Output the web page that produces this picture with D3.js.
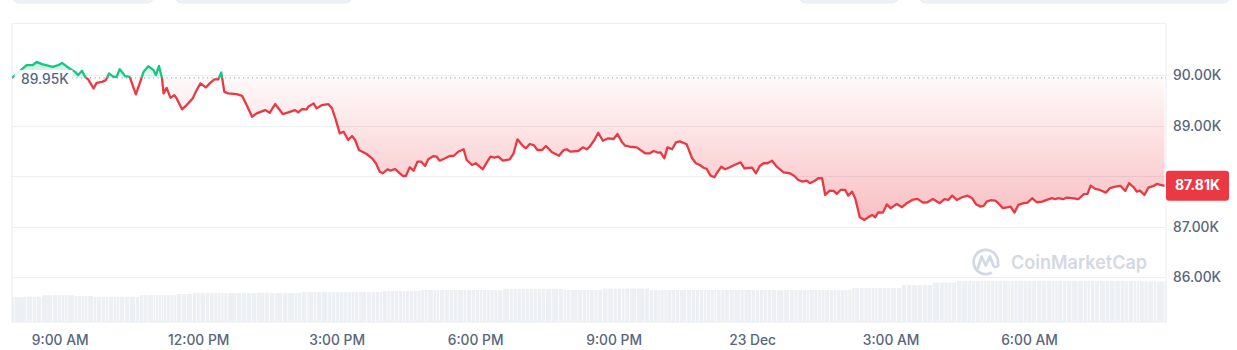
<!DOCTYPE html>
<html>
<head>
<meta charset="utf-8">
<script src="https://cdn.jsdelivr.net/npm/d3@7"></script>
<style>
  html, body { margin: 0; padding: 0; background: #ffffff; }
  svg { display: block; font-family: Inter, "Noto Sans", sans-serif; }
</style>
</head>
<body>
<svg id="chart" width="1237" height="350"></svg>
<script>
// ---------- DATA ----------
const startTime = new Date(2024, 11, 22, 7, 58);      // first sample
const minutes = [
  0,4,19,27,32,39,53,60,65,69,
  73,82,86,91,95,99,106,110,117,122,
  126,132,136,140,147,153,161,166,171,177,
  184,187,191,195,197,201,206,211,214,221,
  227,235,240,245,252,257,263,268,272,276,
  281,292,299,305,312,318,329,335,342,352,
  359,368,372,377,383,385,392,396,403,411,
  416,421,426,431,437,442,446,451,461,468,
  473,478,482,488,492,498,503,508,512,517,
  522,527,532,537,541,548,552,556,563,569,
  574,580,587,591,598,603,608,612,617,622,
  627,632,638,647,652,657,663,668,673,678,
  683,689,694,702,711,717,721,726,736,742,
  747,751,757,762,768,775,782,787,793,797,
  803,812,823,829,834,840,843,848,852,858,
  863,868,877,884,889,894,899,903,908,913,
  916,922,927,933,939,947,952,962,967,972,
  977,982,988,994,1003,1011,1017,1022,1028,1033,
  1037,1043,1048,1053,1057,1063,1068,1072,1077,1083,
  1087,1092,1096,1102,1108,1113,1118,1122,1126,1132,
  1137,1142,1150,1157,1163,1170,1177,1184,1190,1197,
  1206,1212,1217,1222,1228,1235,1242,1248,1253,1259,
  1263,1267,1272,1278,1282,1288,1295,1298,1303,1308,
  1315,1320,1326,1332,1339,1345,1352,1356,1360,1366,
  1371,1378,1386,1393,1398,1402,1408,1414,1422,1427,
  1434,1441,1447,1452,1458,1462,1466,1472,1477,1484,
  1488,1498
];
const prices = [
  89950,90006,90204,90204,90269,90224,90170,90204,90249,90204,
  90158,90071,90006,90091,89972,89921,89743,89853,89873,89907,
  90040,89972,89972,90125,89986,89972,89624,89842,90071,90184,
  90105,90006,90190,89941,89644,89754,89556,89610,89545,89327,
  89412,89545,89709,89842,89762,89842,89921,89921,90059,89675,
  89644,89630,89596,89412,89180,89248,89313,89259,89432,89234,
  89267,89313,89267,89333,89327,89378,89446,89347,89412,89432,
  89347,89115,88852,88883,88719,88798,88719,88521,88442,88357,
  88258,88091,88060,88139,88111,88145,88071,88006,88006,88178,
  88111,88289,88289,88204,88337,88402,88388,88309,88357,88402,
  88402,88487,88535,88323,88224,88258,88190,88139,88270,88388,
  88368,88388,88309,88337,88456,88733,88620,88555,88640,88620,
  88521,88521,88600,88475,88408,88521,88535,88487,88501,88574,
  88535,88590,88719,88863,88705,88753,88739,88838,88673,88606,
  88586,88574,88456,88456,88501,88467,88475,88357,88574,88535,
  88673,88693,88634,88357,88258,88224,88170,88145,88012,87980,
  88060,88190,88139,88178,88224,88277,88159,88170,88060,88204,
  88258,88258,88309,88190,88079,88060,88006,87927,87893,87913,
  87862,87907,87961,87961,87630,87715,87709,87650,87729,87729,
  87616,87695,87565,87188,87135,87188,87234,87188,87283,87279,
  87442,87367,87452,87386,87466,87531,87551,87477,87485,87551,
  87466,87545,87531,87616,87531,87584,87616,87565,87446,87398,
  87412,87497,87525,87517,87466,87367,87386,87398,87279,87432,
  87466,87477,87565,87485,87497,87531,87565,87545,87565,87545,
  87577,87565,87545,87644,87650,87814,87749,87729,87676,87763,
  87794,87808,87709,87862,87782,87695,87715,87630,87774,87808,
  87848,87810
];
// 24h volume (billions USD)
const volumes = [
  38.5,38.6,38.8,38.6,38.9,41.2,41.5,41.6,41.4,41.5,
  41.3,40.1,40.0,40.2,39.9,40.0,38.6,38.5,38.7,38.4,
  38.5,38.3,38.6,38.5,38.4,38.6,38.5,41.2,41.5,41.6,
  41.5,41.4,41.6,41.5,41.5,41.7,41.6,41.5,43.0,43.1,
  43.1,44.6,44.5,44.7,44.6,44.6,44.8,44.6,44.5,44.7,
  44.6,44.7,44.6,44.5,44.6,44.8,44.7,44.6,44.6,44.7,
  44.7,44.6,44.8,46.1,46.2,46.2,46.3,46.1,46.2,46.3,
  46.2,46.1,46.3,46.2,46.2,46.4,46.2,46.3,46.2,46.4,
  46.3,46.4,47.7,47.6,47.8,47.7,47.7,47.9,47.7,47.8,
  47.8,47.7,49.2,49.1,49.3,49.2,49.2,49.4,49.2,49.3,
  49.2,49.3,49.2,49.1,49.3,49.2,49.4,49.2,49.3,49.2,
  49.3,49.2,50.8,50.9,50.7,50.8,50.8,51.0,50.8,50.9,
  50.8,50.9,50.7,50.8,50.8,49.2,49.3,49.1,49.2,49.3,
  49.2,49.3,49.1,49.2,51.5,51.6,51.4,51.5,51.5,51.6,
  51.5,51.4,51.6,49.2,49.3,49.2,49.1,49.3,49.2,49.2,
  49.3,49.2,49.1,49.2,49.3,49.2,49.1,49.2,49.3,49.2,
  49.1,49.2,49.3,49.2,49.1,49.2,49.3,49.2,49.1,49.2,
  49.2,49.3,49.2,49.1,49.2,49.3,49.2,49.2,49.1,49.3,
  49.2,49.3,49.2,49.4,49.3,49.2,49.3,49.5,49.3,49.4,
  49.4,52.2,52.3,52.3,52.4,52.2,52.3,52.4,52.3,52.5,
  52.4,52.3,52.5,56.8,56.9,57.0,56.9,56.8,56.9,60.4,
  60.5,60.6,60.4,60.5,63.0,63.1,63.2,63.1,63.0,63.1,
  63.1,63.2,63.0,63.1,63.1,63.2,63.1,63.0,63.1,63.2,
  63.1,63.0,63.1,63.2,63.1,63.1,63.0,63.1,63.2,63.1,
  63.0,63.1,63.0,62.9,63.0,63.1,63.0,62.9,62.8,62.9,
  62.8,62.9,62.7,62.8,62.6,62.7,62.6,62.5,62.4,62.3,
  62.3,62.2
];
const openPrice = 89950;
const openLabel = "89.95K";
const lastLabel = "87.81K";
const yTickValues = [86000, 87000, 88000, 89000, 90000];
const yTickLabels = ["86.00K", "87.00K", "", "89.00K", "90.00K"];
const xTickDates = [
  new Date(2024, 11, 22, 9), new Date(2024, 11, 22, 12), new Date(2024, 11, 22, 15),
  new Date(2024, 11, 22, 18), new Date(2024, 11, 22, 21), new Date(2024, 11, 23, 0),
  new Date(2024, 11, 23, 3), new Date(2024, 11, 23, 6)
];
const xTickLabels = ["9:00 AM", "12:00 PM", "3:00 PM", "6:00 PM", "9:00 PM", "23 Dec", "3:00 AM", "6:00 AM"];

// ---------- LAYOUT ----------
const plot = { left: 12, right: 1166, top: 23.5, bottom: 322 };
const RED = "#ea3943", GREEN = "#16c784", AXIS = "#58667e";

const data = minutes.map((m, i) => ({
  t: new Date(startTime.getTime() + m * 60000), p: prices[i], v: volumes[i]
}));

const svg = d3.select("#chart");

const x = d3.scaleTime()
  .domain([startTime, new Date(2024, 11, 23, 8, 58)])
  .range([plot.left, plot.right]);
const y = d3.scaleLinear().domain([85110, 91020]).range([plot.bottom, plot.top + 0.5]);
const yVol = d3.scaleLinear().domain([0, 80]).range([plot.bottom, 270]);
const yBase = y(openPrice);

// top partially-visible UI pills
const pills = [[12, 142], [175, 177], [799, 100], [919, 311]];
svg.append("g").selectAll("rect").data(pills).join("rect")
  .attr("x", d => d[0]).attr("y", -12).attr("width", d => d[1]).attr("height", 15)
  .attr("rx", 7).attr("fill", "#eef1f6").attr("stroke", "#e3e7ee").attr("stroke-width", 0.8);

// defs
const defs = svg.append("defs");
defs.append("clipPath").attr("id", "clipBelow").append("rect")
  .attr("x", plot.left).attr("y", yBase).attr("width", plot.right - plot.left).attr("height", plot.bottom - yBase);
defs.append("clipPath").attr("id", "clipAbove").append("rect")
  .attr("x", plot.left).attr("y", plot.top).attr("width", plot.right - plot.left).attr("height", yBase - plot.top);

const gRed = defs.append("linearGradient").attr("id", "gradRed")
  .attr("gradientUnits", "userSpaceOnUse").attr("x1", 0).attr("x2", 0)
  .attr("y1", yBase).attr("y2", y(d3.min(prices)));
gRed.append("stop").attr("offset", 0).attr("stop-color", RED).attr("stop-opacity", 0.03);
gRed.append("stop").attr("offset", 1).attr("stop-color", RED).attr("stop-opacity", 0.32);
const gGreen = defs.append("linearGradient").attr("id", "gradGreen")
  .attr("gradientUnits", "userSpaceOnUse").attr("x1", 0).attr("x2", 0)
  .attr("y1", y(d3.max(prices))).attr("y2", yBase);
gGreen.append("stop").attr("offset", 0).attr("stop-color", GREEN).attr("stop-opacity", 0.3);
gGreen.append("stop").attr("offset", 1).attr("stop-color", GREEN).attr("stop-opacity", 0.06);

// frame
svg.append("rect").attr("x", plot.left).attr("y", plot.top)
  .attr("width", plot.right - plot.left).attr("height", plot.bottom - plot.top)
  .attr("fill", "none").attr("stroke", "#eceff3").attr("stroke-width", 1.2);

// gridlines
svg.append("g").selectAll("line").data(yTickValues).join("line")
  .attr("x1", plot.left).attr("x2", plot.right)
  .attr("y1", d => Math.round(y(d)) + 0.5).attr("y2", d => Math.round(y(d)) + 0.5)
  .attr("stroke", "#eceff3").attr("stroke-width", 1);

// volume bars
svg.append("g").selectAll("rect").data(data).join("rect")
  .attr("x", d => x(d.t))
  .attr("width", (d, i) => i < data.length - 1 ? Math.max(1, x(data[i + 1].t) - x(d.t) - 0.7) : 2)
  .attr("y", d => yVol(d.v))
  .attr("height", d => plot.bottom - yVol(d.v))
  .attr("fill", "#eceff3");

// watermark
const wm = svg.append("g").attr("fill", "none").attr("stroke", "#d3d9e4");
wm.append("path")
  .attr("transform", "translate(985.8,262)")
  .attr("d", d3.arc().innerRadius(10.8).outerRadius(13.6)
    .startAngle(150 * Math.PI / 180).endAngle(460 * Math.PI / 180)())
  .attr("fill", "#d3d9e4").attr("stroke", "none");
wm.append("path")
  .attr("d", "M978,268 L981.5,256.5 L985.8,265.5 L990,256.5 L993.5,266 Q995.5,268.5 998.5,265")
  .attr("stroke-width", 2.8).attr("stroke-linejoin", "round").attr("stroke-linecap", "round");
svg.append("text").attr("x", 1011).attr("y", 269)
  .attr("font-size", 18.5).attr("font-weight", 600).attr("fill", "#d3d9e4")
  .attr("textLength", 136).attr("lengthAdjust", "spacingAndGlyphs")
  .text("CoinMarketCap");

// areas
const area = d3.area().x(d => x(d.t)).y0(yBase).y1(d => y(d.p));
svg.append("path").datum(data).attr("d", area).attr("fill", "url(#gradRed)").attr("clip-path", "url(#clipBelow)");
svg.append("path").datum(data).attr("d", area).attr("fill", "url(#gradGreen)").attr("clip-path", "url(#clipAbove)");

// baseline (dotted)
svg.append("line").attr("x1", 72).attr("x2", plot.right)
  .attr("y1", yBase).attr("y2", yBase)
  .attr("stroke", "#a7b1c2").attr("stroke-width", 1.2).attr("stroke-dasharray", "1.2,3.3");

// price line
const line = d3.line().x(d => x(d.t)).y(d => y(d.p));
svg.append("path").datum(data).attr("d", line).attr("fill", "none")
  .attr("stroke", RED).attr("stroke-width", 2.3).attr("stroke-linejoin", "round").attr("clip-path", "url(#clipBelow)");
svg.append("path").datum(data).attr("d", line).attr("fill", "none")
  .attr("stroke", GREEN).attr("stroke-width", 2.3).attr("stroke-linejoin", "round").attr("clip-path", "url(#clipAbove)");

// open price label
svg.append("rect").attr("x", 14.5).attr("y", yBase - 8).attr("width", 58).attr("height", 17)
  .attr("fill", "#ffffff").attr("fill-opacity", 0.88);
svg.append("text").attr("x", 21).attr("y", yBase + 2.3)
  .attr("dominant-baseline", "middle").attr("font-size", 13.8).attr("font-weight", 500)
  .attr("fill", AXIS).text(openLabel);

// y axis (right)
const yAxis = d3.axisRight(y).tickValues(yTickValues)
  .tickFormat((d, i) => yTickLabels[i]).tickSize(0).tickPadding(7);
const gy = svg.append("g").attr("transform", `translate(${plot.right},0)`).call(yAxis);
gy.select(".domain").remove();
gy.selectAll("text").attr("font-family", "Inter, sans-serif").attr("font-size", 13.8)
  .attr("font-weight", 500).attr("fill", AXIS);

// x axis (bottom)
const xAxis = d3.axisBottom(x).tickValues(xTickDates)
  .tickFormat((d, i) => xTickLabels[i]).tickSize(0).tickPadding(13);
const gx = svg.append("g").attr("transform", `translate(0,${plot.bottom})`).call(xAxis);
gx.select(".domain").remove();
gx.selectAll("text").attr("font-family", "Inter, sans-serif").attr("font-size", 13.8)
  .attr("font-weight", 500).attr("fill", AXIS);

// current price tag
const last = data[data.length - 1];
svg.append("rect").attr("x", plot.right).attr("y", y(last.p) - 15).attr("width", 63).attr("height", 30)
  .attr("rx", 3).attr("fill", RED);
svg.append("text").attr("x", plot.right + 31.5).attr("y", y(last.p) + 0.5)
  .attr("text-anchor", "middle").attr("dominant-baseline", "middle")
  .attr("font-size", 14).attr("font-weight", 700).attr("fill", "#ffffff").text(lastLabel);
</script>
</body>
</html>
